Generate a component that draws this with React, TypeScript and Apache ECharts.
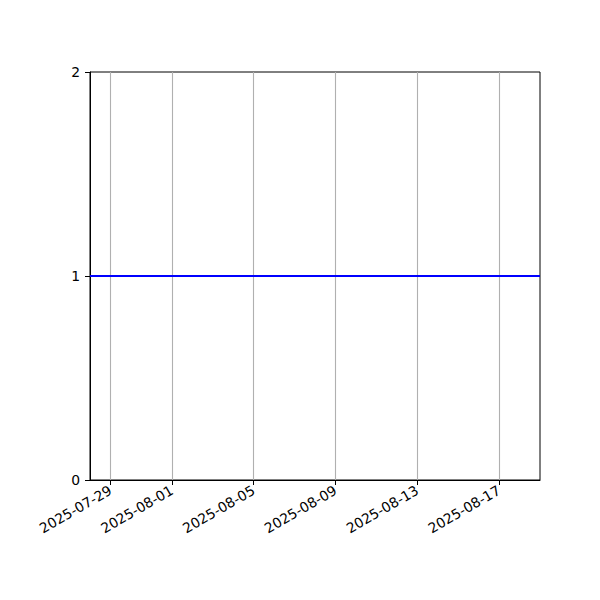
import React, { useEffect, useRef } from 'react';
import * as echarts from 'echarts';

// line data (constant value across the whole range)
const dates = ['2025-07-28', '2025-08-19'];
const values = [1, 1];

// x tick labels and y ticks as in the reference
const xTickDates = ['2025-07-29', '2025-08-01', '2025-08-05', '2025-08-09', '2025-08-13', '2025-08-17'];
const yTicks = [0, 1, 2];

const toTs = (d: string) => new Date(d + 'T00:00:00Z').getTime();

const fmtDate = (ts: number) => {
    const d = new Date(ts);
    const mm = String(d.getUTCMonth() + 1).padStart(2, '0');
    const dd = String(d.getUTCDate()).padStart(2, '0');
    return `${d.getUTCFullYear()}-${mm}-${dd}`;
};

const App: React.FC = () => {
    const chartRef = useRef<HTMLDivElement>(null);

    useEffect(() => {
        if (!chartRef.current) return;
        document.body.style.margin = '0';
        const chart = echarts.init(chartRef.current, undefined, { renderer: 'svg' });
        const font = 'DejaVu Sans';
        const xTicks = xTickDates.map(toTs);

        chart.setOption({
            animation: false,
            textStyle: { fontFamily: font },
            grid: {
                left: 90,
                right: 60,
                top: 72,
                bottom: 120,
                show: true,
                borderColor: '#000',
                borderWidth: 1,
                backgroundColor: 'transparent',
            },
            xAxis: {
                type: 'value',
                min: toTs(dates[0]),
                max: toTs(dates[dates.length - 1]),
                axisLine: { show: true, lineStyle: { color: '#000', width: 1 } },
                axisTick: {
                    show: true,
                    length: 5,
                    lineStyle: { color: '#000', width: 1 },
                    customValues: xTicks,
                },
                axisLabel: {
                    customValues: xTicks,
                    rotate: 30,
                    margin: 9,
                    color: '#000',
                    fontSize: 13.9,
                    fontFamily: font,
                    formatter: (v: number) => fmtDate(v),
                },
                splitLine: { show: false },
            },
            yAxis: {
                type: 'value',
                min: 0,
                max: 2,
                interval: 1,
                axisLine: { show: true, lineStyle: { color: '#000', width: 1 } },
                axisTick: { show: true, length: 5, lineStyle: { color: '#000', width: 1 } },
                axisLabel: {
                    margin: 10,
                    color: '#000',
                    fontSize: 13.9,
                    fontFamily: font,
                    formatter: (v: number) => (yTicks.includes(v) ? String(v) : ''),
                },
                splitLine: { show: false },
            },
            series: [
                {
                    type: 'line',
                    data: dates.map((d, i) => [toTs(d), values[i]]),
                    showSymbol: false,
                    lineStyle: { color: '#0000ff', width: 2 },
                    z: 3,
                    markLine: {
                        silent: true,
                        symbol: 'none',
                        label: { show: false },
                        lineStyle: { color: '#b0b0b0', width: 1.1, type: 'solid' },
                        data: xTicks.map(t => ({ xAxis: t })),
                        z: 1,
                    },
                },
            ],
        });

        return () => chart.dispose();
    }, []);

    return <div ref={chartRef} style={{ width: 600, height: 600 }} />;
};

export default App;
